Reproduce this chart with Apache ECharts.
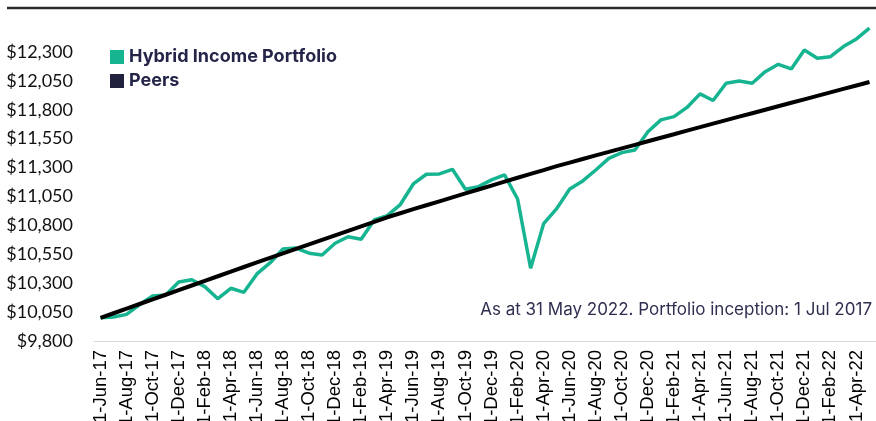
<!DOCTYPE html>
<html>
<head>
<meta charset="utf-8">
<script src="https://cdn.jsdelivr.net/npm/echarts@6/dist/echarts.min.js"></script>
<style>
  html, body { margin: 0; padding: 0; background: #fff; }
  #chart { width: 876px; height: 421px; }
</style>
</head>
<body>
<div id="chart"></div>
<script>
// monthly points, 1-Jun-17 .. 1-May-22
const months = [
  '1-Jun-17','1-Jul-17','1-Aug-17','1-Sep-17','1-Oct-17','1-Nov-17','1-Dec-17',
  '1-Jan-18','1-Feb-18','1-Mar-18','1-Apr-18','1-May-18','1-Jun-18','1-Jul-18','1-Aug-18','1-Sep-18','1-Oct-18','1-Nov-18','1-Dec-18',
  '1-Jan-19','1-Feb-19','1-Mar-19','1-Apr-19','1-May-19','1-Jun-19','1-Jul-19','1-Aug-19','1-Sep-19','1-Oct-19','1-Nov-19','1-Dec-19',
  '1-Jan-20','1-Feb-20','1-Mar-20','1-Apr-20','1-May-20','1-Jun-20','1-Jul-20','1-Aug-20','1-Sep-20','1-Oct-20','1-Nov-20','1-Dec-20',
  '1-Jan-21','1-Feb-21','1-Mar-21','1-Apr-21','1-May-21','1-Jun-21','1-Jul-21','1-Aug-21','1-Sep-21','1-Oct-21','1-Nov-21','1-Dec-21',
  '1-Jan-22','1-Feb-22','1-Mar-22','1-Apr-22','1-May-22'
];

const portfolio = [
  10000, 10008, 10030, 10115, 10190, 10198, 10310, 10330, 10270, 10166,
  10256, 10221, 10380, 10475, 10596, 10604, 10559, 10544, 10645, 10702,
  10680, 10847, 10884, 10980, 11158, 11242, 11245, 11285, 11112, 11135,
  11193, 11236, 11028, 10429, 10815, 10945, 11115, 11184, 11279, 11379,
  11429, 11452, 11610, 11712, 11740, 11820, 11937, 11880, 12029, 12049,
  12029, 12129, 12193, 12153, 12317, 12245, 12259, 12346, 12412, 12505
];

const peers = [
  10000, 10040, 10080, 10120, 10160, 10200, 10240, 10280, 10320, 10360,
  10400, 10440, 10480, 10519, 10558, 10597, 10636, 10675, 10714, 10753,
  10792, 10831, 10870, 10905, 10940, 10974, 11008, 11042, 11076, 11110,
  11144, 11178, 11212, 11245, 11278, 11312, 11343, 11374, 11405, 11435,
  11466, 11496, 11527, 11558, 11588, 11619, 11649, 11680, 11710, 11740,
  11770, 11800, 11830, 11860, 11890, 11920, 11950, 11980, 12010, 12040
];

const yMin = 9800, yMax = 12550, yStep = 250;
const note = 'As at 31 May 2022. Portfolio inception: 1 Jul 2017';

const chart = echarts.init(document.getElementById('chart'));

chart.setOption({
  animation: false,
  grid: { left: 94, right: 0, top: 23, bottom: 80, outerBoundsMode: 'none' },
  legend: {
    orient: 'vertical',
    left: 105,
    top: 43,
    itemWidth: 14,
    itemHeight: 14,
    itemGap: 6,
    icon: 'rect',
    textStyle: { fontFamily: 'Inter', fontWeight: 'bold', fontSize: 18, color: '#25254a' },
    data: ['Hybrid Income Portfolio', 'Peers']
  },
  xAxis: {
    type: 'category',
    data: months,
    boundaryGap: true,
    axisLine: { lineStyle: { color: '#d9d9d9', width: 1 } },
    axisTick: { interval: 1, length: 5, lineStyle: { color: '#d9d9d9' } },
    axisLabel: {
      interval: 1,
      rotate: 90,
      margin: 9,
      fontFamily: 'Liberation Sans',
      fontSize: 18.5,
      color: '#000'
    }
  },
  yAxis: {
    type: 'value',
    min: yMin,
    max: yMax,
    interval: yStep,
    splitLine: { show: false },
    axisLine: { show: false },
    axisTick: { show: false },
    axisLabel: {
      showMaxLabel: false,
      margin: 21,
      fontFamily: 'Lato',
      fontSize: 18,
      color: '#111',
      formatter: v => '$' + v.toLocaleString('en-US')
    }
  },
  graphic: [
    {
      type: 'line',
      shape: { x1: 7, y1: 8, x2: 876, y2: 8 },
      style: { stroke: '#2a2a2a', lineWidth: 2.5 }
    },
    {
      type: 'text',
      right: 4,
      top: 301,
      style: { text: note, fontFamily: 'Inter', fontSize: 17, fill: '#2e2e50' }
    }
  ],
  series: [
    {
      name: 'Peers',
      type: 'line',
      data: peers,
      showSymbol: false,
      itemStyle: { color: '#22223f' },
      lineStyle: { color: '#000', width: 4 },
      z: 3
    },
    {
      name: 'Hybrid Income Portfolio',
      type: 'line',
      data: portfolio,
      showSymbol: false,
      itemStyle: { color: '#17b491' },
      lineStyle: { color: '#17b491', width: 3.5 },
      z: 2
    }
  ]
});
</script>
</body>
</html>
